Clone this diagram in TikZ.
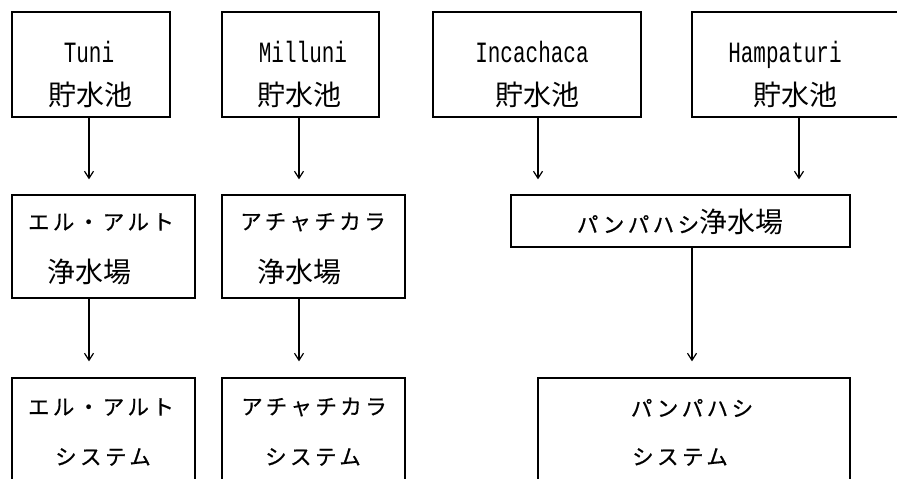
\documentclass[tikz,border=0pt]{standalone}
\usepackage{fontspec}
\usepackage{graphicx}
\newfontfamily\jp{Noto Sans CJK JP}
\newfontfamily\jpk[LetterSpace=16,FakeBold=0.6]{Noto Sans CJK JP}
\newfontfamily\lat{Liberation Mono}
\usetikzlibrary{fit,arrows.meta}
\tikzset{
  box/.style={draw,line width=1.3pt,inner sep=0pt,rectangle},
  kanji/.style={inner sep=0pt,font=\jp\fontsize{28}{28}\selectfont},
  kata/.style={inner sep=0pt,font=\jpk\fontsize{21.5}{21.5}\selectfont},
  latn/.style={inner sep=0pt,anchor=base,font=\lat\fontsize{21}{21}\selectfont},
  arr/.style={line width=1.2pt,-{Straight Barb[length=7pt,width=9pt]}},
}
\newcommand\tall[1]{\scalebox{1}[1.4]{#1}}
\begin{document}
\begin{tikzpicture}[x=1pt,y=1pt]
\clip (0,0) rectangle (897,-479);
\fill[white] (0,0) rectangle (897,-479);
% row 1 boxes
\node[box,fit={(12,-12) (170,-117)}] (tuni) {};
\node[box,fit={(222,-12) (379,-117)}] (milluni) {};
\node[box,fit={(433,-12) (641,-117)}] (inca) {};
\node[box,fit={(692,-12) (910,-117)}] (hampa) {};
\node[latn] (t1) at (89,-62) {\tall{Tuni}};
\node[kanji] (t2) at (90,-95) {貯水池};
\node[latn] (m1) at (303,-62) {\tall{Milluni}};
\node[kanji] (m2) at (299,-95) {貯水池};
\node[latn] (i1) at (532,-62) {\tall{Incachaca}};
\node[kanji] (i2) at (537,-95) {貯水池};
\node[latn] (h1) at (785,-62) {\tall{Hampaturi}};
\node[kanji] (h2) at (795,-95) {貯水池};
% row 2 boxes
\node[box,fit={(12,-195) (195,-298)}] (ep) {};
\node[box,fit={(222,-195) (405,-298)}] (ap) {};
\node[box,fit={(511,-195) (850,-247)}] (pp) {};
\node[kata] (ep1) at (101,-222) {エル・アルト};
\node[kanji] (ep2) at (89,-272) {浄水場};
\node[kata] (ap1) at (313,-222) {アチャチカラ};
\node[kanji] (ap2) at (299,-272) {浄水場};
\node[kanji] (pp1) at (680,-222) {\jpk\fontsize{21.5}{21.5}\selectfont パンパハシ\jp\fontsize{28}{28}\selectfont 浄水場};
% row 3 boxes
\node[box,fit={(12,-378) (195,-510)}] (es) {};
\node[box,fit={(222,-378) (405,-510)}] (as) {};
\node[box,fit={(538,-378) (850,-510)}] (ps) {};
\node[kata] (es1) at (101,-407) {エル・アルト};
\node[kata] (es2) at (103,-457) {システム};
\node[kata] (as1) at (314,-407) {アチャチカラ};
\node[kata] (as2) at (313,-457) {システム};
\node[kata] (ps1) at (692,-408) {パンパハシ};
\node[kata] (ps2) at (680,-457) {システム};
% arrow columns
\coordinate (c1) at (89,0);
\coordinate (c2) at (299,0);
\coordinate (c3) at (538,0);
\coordinate (c4) at (799,0);
\coordinate (c5) at (692,0);
\draw[arr,shorten >=15pt] (tuni.south -| c1) -- (ep.north -| c1);
\draw[arr,shorten >=15pt] (milluni.south -| c2) -- (ap.north -| c2);
\draw[arr,shorten >=15pt] (inca.south -| c3) -- (pp.north -| c3);
\draw[arr,shorten >=15pt] (hampa.south -| c4) -- (pp.north -| c4);
\draw[arr,shorten >=16pt] (ep.south -| c1) -- (es.north -| c1);
\draw[arr,shorten >=16pt] (ap.south -| c2) -- (as.north -| c2);
\draw[arr,shorten >=16pt] (pp.south -| c5) -- (ps.north -| c5);
\end{tikzpicture}
\end{document}
